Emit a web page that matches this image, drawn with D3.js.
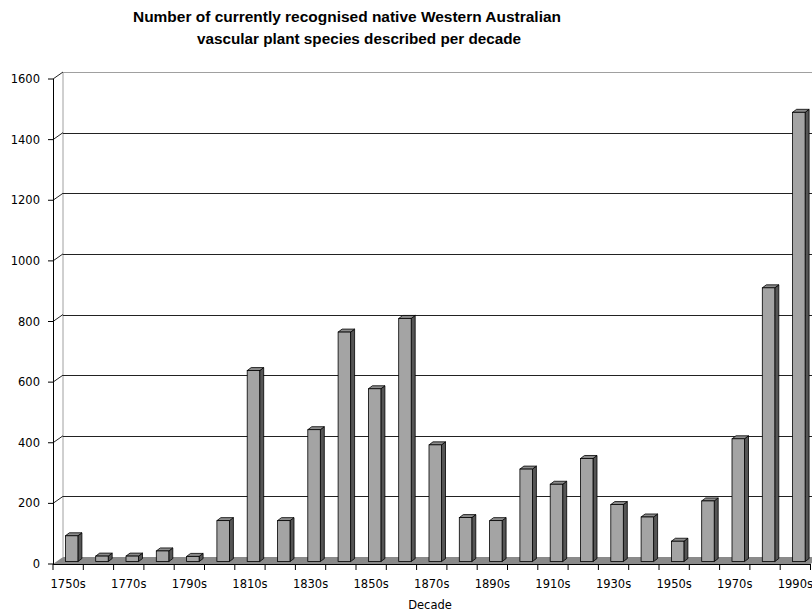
<!DOCTYPE html>
<html>
<head>
<meta charset="utf-8">
<script src="https://cdn.jsdelivr.net/npm/d3@7"></script>
<style>
  body { margin: 0; background: #fff; }
  svg { display: block; font-family: "Liberation Sans", Arial, sans-serif; }
  .lbl { font-family: "DejaVu Sans", sans-serif; }
</style>
</head>
<body>
<div id="chart"></div>
<script>
const decades = ['1750s','1760s','1770s','1780s','1790s','1800s','1810s','1820s','1830s','1840s',
                 '1850s','1860s','1870s','1880s','1890s','1900s','1910s','1920s','1930s','1940s',
                 '1950s','1960s','1970s','1980s','1990s']
const species = [85, 18, 18, 35, 17, 135, 630, 135, 435, 757,
                 570, 802, 385, 145, 135, 305, 255, 340, 188, 147,
                 67, 200, 405, 903, 1482]
const y_ticks = [0, 200, 400, 600, 800, 1000, 1200, 1400, 1600]
const labelled = ['1750s','1770s','1790s','1810s','1830s','1850s','1870s','1890s','1910s','1930s','1950s','1970s','1990s']

const svg_width = 812
const svg_height = 611
const axis_left = 53
const axis_bottom = 564
const axis_top = 79
const band = 30.3
// depth of the 3d box (back wall offset)
const depth_x = 10
const depth_y = 7

const xScale = d3.scaleBand()
        .domain(decades)
        .range([axis_left, axis_left + band * decades.length])
        .padding(0)

const yScale = d3.scaleLinear()
        .domain([0, 1600])
        .range([axis_bottom, axis_top])

const svg = d3.select('#chart')
            .append('svg')
            .attr('width', svg_width)
            .attr('height', svg_height)

// title, two lines
svg.append('text')
    .attr('x', 347).attr('y', 22)
    .attr('text-anchor', 'middle')
    .attr('font-size', '14px').attr('font-weight', 'bold')
    .attr('textLength', 428).attr('lengthAdjust', 'spacingAndGlyphs')
    .text('Number of currently recognised native Western Australian')
svg.append('text')
    .attr('x', 359).attr('y', 44)
    .attr('text-anchor', 'middle')
    .attr('font-size', '14px').attr('font-weight', 'bold')
    .attr('textLength', 324).attr('lengthAdjust', 'spacingAndGlyphs')
    .text('vascular plant species described per decade')

const x_end = xScale.range()[1]

// floor
svg.append('polygon')
    .attr('points', [[axis_left, axis_bottom], [axis_left + depth_x, axis_bottom - depth_y],
                     [x_end + depth_x, axis_bottom - depth_y], [x_end, axis_bottom]].join(' '))
    .attr('fill', '#8a8a8a')

// back wall border
svg.append('line')
    .attr('x1', axis_left + depth_x).attr('x2', axis_left + depth_x)
    .attr('y1', yScale(1600) - depth_y).attr('y2', axis_bottom - depth_y)
    .attr('stroke', '#a0a0a0')
svg.append('line')
    .attr('x1', axis_left + depth_x).attr('x2', x_end + depth_x)
    .attr('y1', yScale(1600) - depth_y + 0.5).attr('y2', yScale(1600) - depth_y + 0.5)
    .attr('stroke', '#a0a0a0')

// gridlines on back wall + diagonal on side wall
const grid = y_ticks.filter(d => d > 0 && d < 1600)
svg.selectAll('.grid')
    .data(grid)
    .join('line')
      .attr('class', 'grid')
      .attr('x1', axis_left + depth_x).attr('x2', x_end + depth_x)
      .attr('y1', d => Math.round(yScale(d) - depth_y) + 0.5)
      .attr('y2', d => Math.round(yScale(d) - depth_y) + 0.5)
      .attr('stroke', '#222')
svg.selectAll('.diag')
    .data(y_ticks.filter(d => d > 0))
    .join('line')
      .attr('class', 'diag')
      .attr('x1', axis_left).attr('x2', axis_left + depth_x)
      .attr('y1', d => yScale(d)).attr('y2', d => yScale(d) - depth_y)
      .attr('stroke', '#222')

// bars: front face, side face, top face
const bw = 12.5
const front_dx = depth_x * 0.35
const front_dy = depth_y * 0.35
const side_dx = 4
const side_dy = 3

const bars = svg.selectAll('.bar')
    .data(decades.map((d, i) => ({decade: d, value: species[i]})))
    .join('g')
      .attr('class', 'bar')

bars.each(function (d) {
    const g = d3.select(this)
    const x0 = xScale(d.decade) + (band - bw) / 2 + front_dx
    const y0 = axis_bottom - front_dy
    const yt = yScale(d.value) - front_dy
    g.append('polygon')
        .attr('points', [[x0 + bw, y0], [x0 + bw + side_dx, y0 - side_dy],
                         [x0 + bw + side_dx, yt - side_dy], [x0 + bw, yt]].join(' '))
        .attr('fill', '#555').attr('stroke', '#000').attr('stroke-width', 0.8)
    g.append('polygon')
        .attr('points', [[x0, yt], [x0 + side_dx, yt - side_dy],
                         [x0 + bw + side_dx, yt - side_dy], [x0 + bw, yt]].join(' '))
        .attr('fill', '#8c8c8c').attr('stroke', '#000').attr('stroke-width', 0.8)
    g.append('rect')
        .attr('x', x0).attr('y', yt)
        .attr('width', bw).attr('height', y0 - yt)
        .attr('fill', '#a4a4a4').attr('stroke', '#000').attr('stroke-width', 0.8)
})

// y axis
svg.append('line')
    .attr('x1', axis_left + 0.5).attr('x2', axis_left + 0.5)
    .attr('y1', axis_top).attr('y2', axis_bottom)
    .attr('stroke', '#000')
svg.selectAll('.ytick')
    .data(y_ticks)
    .join('line')
      .attr('class', 'ytick')
      .attr('x1', axis_left - 5).attr('x2', axis_left)
      .attr('y1', d => yScale(d)).attr('y2', d => yScale(d))
      .attr('stroke', '#000')
svg.selectAll('.ylabel')
    .data(y_ticks)
    .join('text')
      .attr('class', 'ylabel lbl')
      .attr('x', 40).attr('y', d => yScale(d) + 4)
      .attr('text-anchor', 'end')
      .attr('font-size', '11.5px')
      .text(d => d)

// x axis
svg.append('line')
    .attr('x1', axis_left).attr('x2', x_end)
    .attr('y1', axis_bottom + 0.5).attr('y2', axis_bottom + 0.5)
    .attr('stroke', '#000')
svg.selectAll('.xtick')
    .data(decades.map(d => xScale(d)).concat([x_end]))
    .join('line')
      .attr('class', 'xtick')
      .attr('x1', d => d).attr('x2', d => d)
      .attr('y1', axis_bottom).attr('y2', axis_bottom + 6)
      .attr('stroke', '#000')
svg.selectAll('.xlabel')
    .data(labelled)
    .join('text')
      .attr('class', 'xlabel lbl')
      .attr('x', d => xScale(d) + band / 2)
      .attr('y', 588)
      .attr('text-anchor', 'middle')
      .attr('font-size', '11.5px')
      .text(d => d)

svg.append('text')
    .attr('class', 'lbl')
    .attr('x', 430).attr('y', 609)
    .attr('text-anchor', 'middle')
    .attr('font-size', '11.5px')
    .text('Decade')
</script>
</body>
</html>
